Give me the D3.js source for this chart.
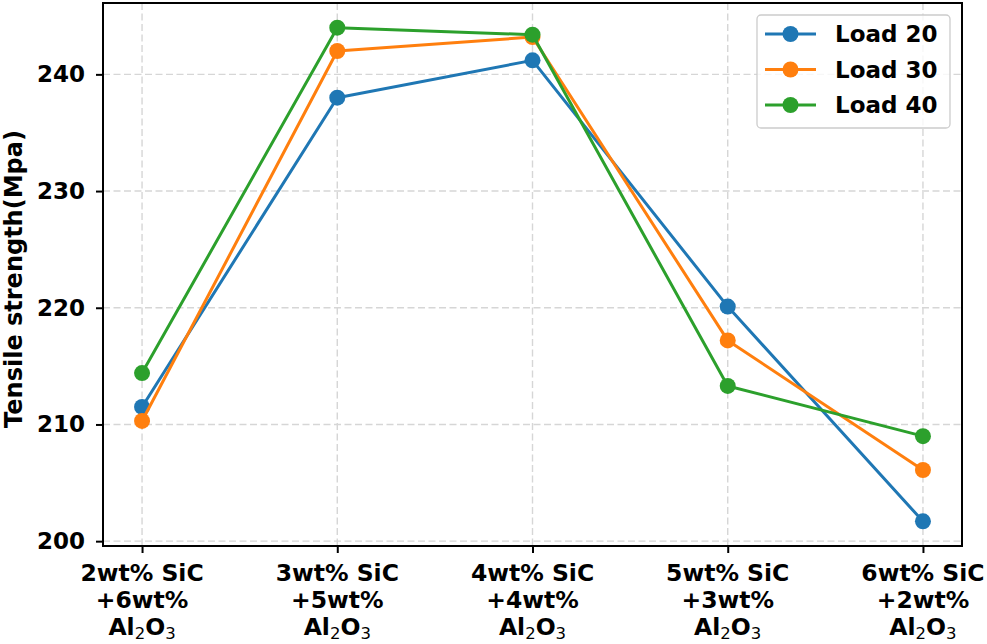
<!DOCTYPE html>
<html>
<head>
<meta charset="utf-8">
<script src="https://cdn.jsdelivr.net/npm/d3@7"></script>
<style>
  html, body { margin: 0; padding: 0; background: #fff; }
  svg text { font-family: "DejaVu Sans", sans-serif; font-weight: bold; }
</style>
</head>
<body>
<div id="chart"></div>
<script>
// ---- data ----
const categories = [
  ["2wt% SiC", "+6wt%", ["Al", "2", "O", "3"]],
  ["3wt% SiC", "+5wt%", ["Al", "2", "O", "3"]],
  ["4wt% SiC", "+4wt%", ["Al", "2", "O", "3"]],
  ["5wt% SiC", "+3wt%", ["Al", "2", "O", "3"]],
  ["6wt% SiC", "+2wt%", ["Al", "2", "O", "3"]]
];
const seriesNames = ["Load 20", "Load 30", "Load 40"];
const load20 = [211.5, 238.0, 241.2, 220.1, 201.7];
const load30 = [210.3, 242.0, 243.2, 217.2, 206.1];
const load40 = [214.4, 244.0, 243.4, 213.3, 209.0];
const seriesColors = ["#1f77b4", "#ff7f0e", "#2ca02c"];
const yTicks = [200, 210, 220, 230, 240];
const yLabel = "Tensile strength(Mpa)";

const allSeries = [load20, load30, load40];

// ---- layout ----
const W = 987, H = 644;
const plot = { left: 103, right: 962, top: 3, bottom: 546 };

const svg = d3.select("#chart").append("svg")
  .attr("width", W).attr("height", H);

const x = d3.scaleLinear().domain([-0.2, categories.length - 1 + 0.2])
  .range([plot.left, plot.right]);
const allVals = allSeries.flat();
const ymin = d3.min(allVals), ymax = d3.max(allVals);
const pad = (ymax - ymin) * 0.05;
const y = d3.scaleLinear().domain([ymin - pad, ymax + pad])
  .range([plot.bottom, plot.top]);

// grid
const grid = svg.append("g");
grid.selectAll(".gx").data(d3.range(categories.length)).join("line")
  .attr("x1", d => x(d)).attr("x2", d => x(d))
  .attr("y1", plot.top).attr("y2", plot.bottom)
  .attr("stroke", "#d6d6d6").attr("stroke-width", 1.4)
  .attr("stroke-dasharray", "7,3.5");
grid.selectAll(".gy").data(yTicks).join("line")
  .attr("y1", d => y(d)).attr("y2", d => y(d))
  .attr("x1", plot.left).attr("x2", plot.right)
  .attr("stroke", "#d6d6d6").attr("stroke-width", 1.4)
  .attr("stroke-dasharray", "7,3.5");

// lines & markers
const line = d3.line().x((d, i) => x(i)).y(d => y(d));
allSeries.forEach((s, k) => {
  const g = svg.append("g");
  g.append("path").datum(s).attr("d", line)
    .attr("fill", "none").attr("stroke", seriesColors[k])
    .attr("stroke-width", 3).attr("stroke-linejoin", "round");
  g.selectAll("circle").data(s).join("circle")
    .attr("cx", (d, i) => x(i)).attr("cy", d => y(d)).attr("r", 8)
    .attr("fill", seriesColors[k]);
});

// frame
svg.append("rect")
  .attr("x", plot.left).attr("y", plot.top)
  .attr("width", plot.right - plot.left).attr("height", plot.bottom - plot.top)
  .attr("fill", "none").attr("stroke", "#000").attr("stroke-width", 2);

// y axis
const yAxis = d3.axisLeft(y).tickValues(yTicks).tickSize(7).tickPadding(11);
const ya = svg.append("g").attr("transform", `translate(${plot.left},0)`).call(yAxis);
ya.select(".domain").remove();
ya.selectAll(".tick line").attr("stroke", "#000").attr("stroke-width", 2);
ya.selectAll(".tick text").attr("font-size", 23).attr("fill", "#000")
  .attr("font-family", "DejaVu Sans").attr("font-weight", "bold");

// x axis
const xAxis = d3.axisBottom(x).tickValues(d3.range(categories.length)).tickSize(7).tickFormat("");
const xa = svg.append("g").attr("transform", `translate(0,${plot.bottom})`).call(xAxis);
xa.select(".domain").remove();
xa.selectAll(".tick line").attr("stroke", "#000").attr("stroke-width", 2);

const xl = svg.append("g").selectAll("text").data(categories).join("text")
  .attr("text-anchor", "middle").attr("font-size", 23.5).attr("fill", "#000")
  .attr("transform", (d, i) => `translate(${x(i)},0)`);
xl.append("tspan").attr("x", 0).attr("y", 580.5).text(d => d[0]);
xl.append("tspan").attr("x", 0).attr("y", 607.5).text(d => d[1]);
xl.each(function(d) {
  const t = d3.select(this);
  const parts = d[2];
  const base = t.append("tspan").attr("x", 0).attr("y", 634.5);
  base.append("tspan").text(parts[0]);
  base.append("tspan").attr("font-size", 16.5).attr("font-weight", "normal").attr("dy", 4).text(parts[1]);
  base.append("tspan").attr("dy", -4).text(parts[2]);
  base.append("tspan").attr("font-size", 16.5).attr("font-weight", "normal").attr("dy", 4).text(parts[3]);
});

// y label
svg.append("text")
  .attr("transform", `translate(22,279) rotate(-90)`)
  .attr("text-anchor", "middle").attr("font-size", 24).attr("fill", "#000")
  .text(yLabel);

// legend
const lg = svg.append("g").attr("transform", "translate(757,15)");
lg.append("rect").attr("width", 193).attr("height", 113).attr("rx", 4)
  .attr("fill", "#fff").attr("fill-opacity", 0.8)
  .attr("stroke", "#cccccc").attr("stroke-width", 1.3);
seriesNames.forEach((n, k) => {
  const yy = 19 + k * 35.5;
  lg.append("line").attr("x1", 8).attr("x2", 59).attr("y1", yy).attr("y2", yy)
    .attr("stroke", seriesColors[k]).attr("stroke-width", 3);
  lg.append("circle").attr("cx", 33.5).attr("cy", yy).attr("r", 8).attr("fill", seriesColors[k]);
  lg.append("text").attr("x", 78).attr("y", yy).attr("dy", "0.36em")
    .attr("font-size", 23).attr("fill", "#000").text(n);
});
</script>
</body>
</html>
